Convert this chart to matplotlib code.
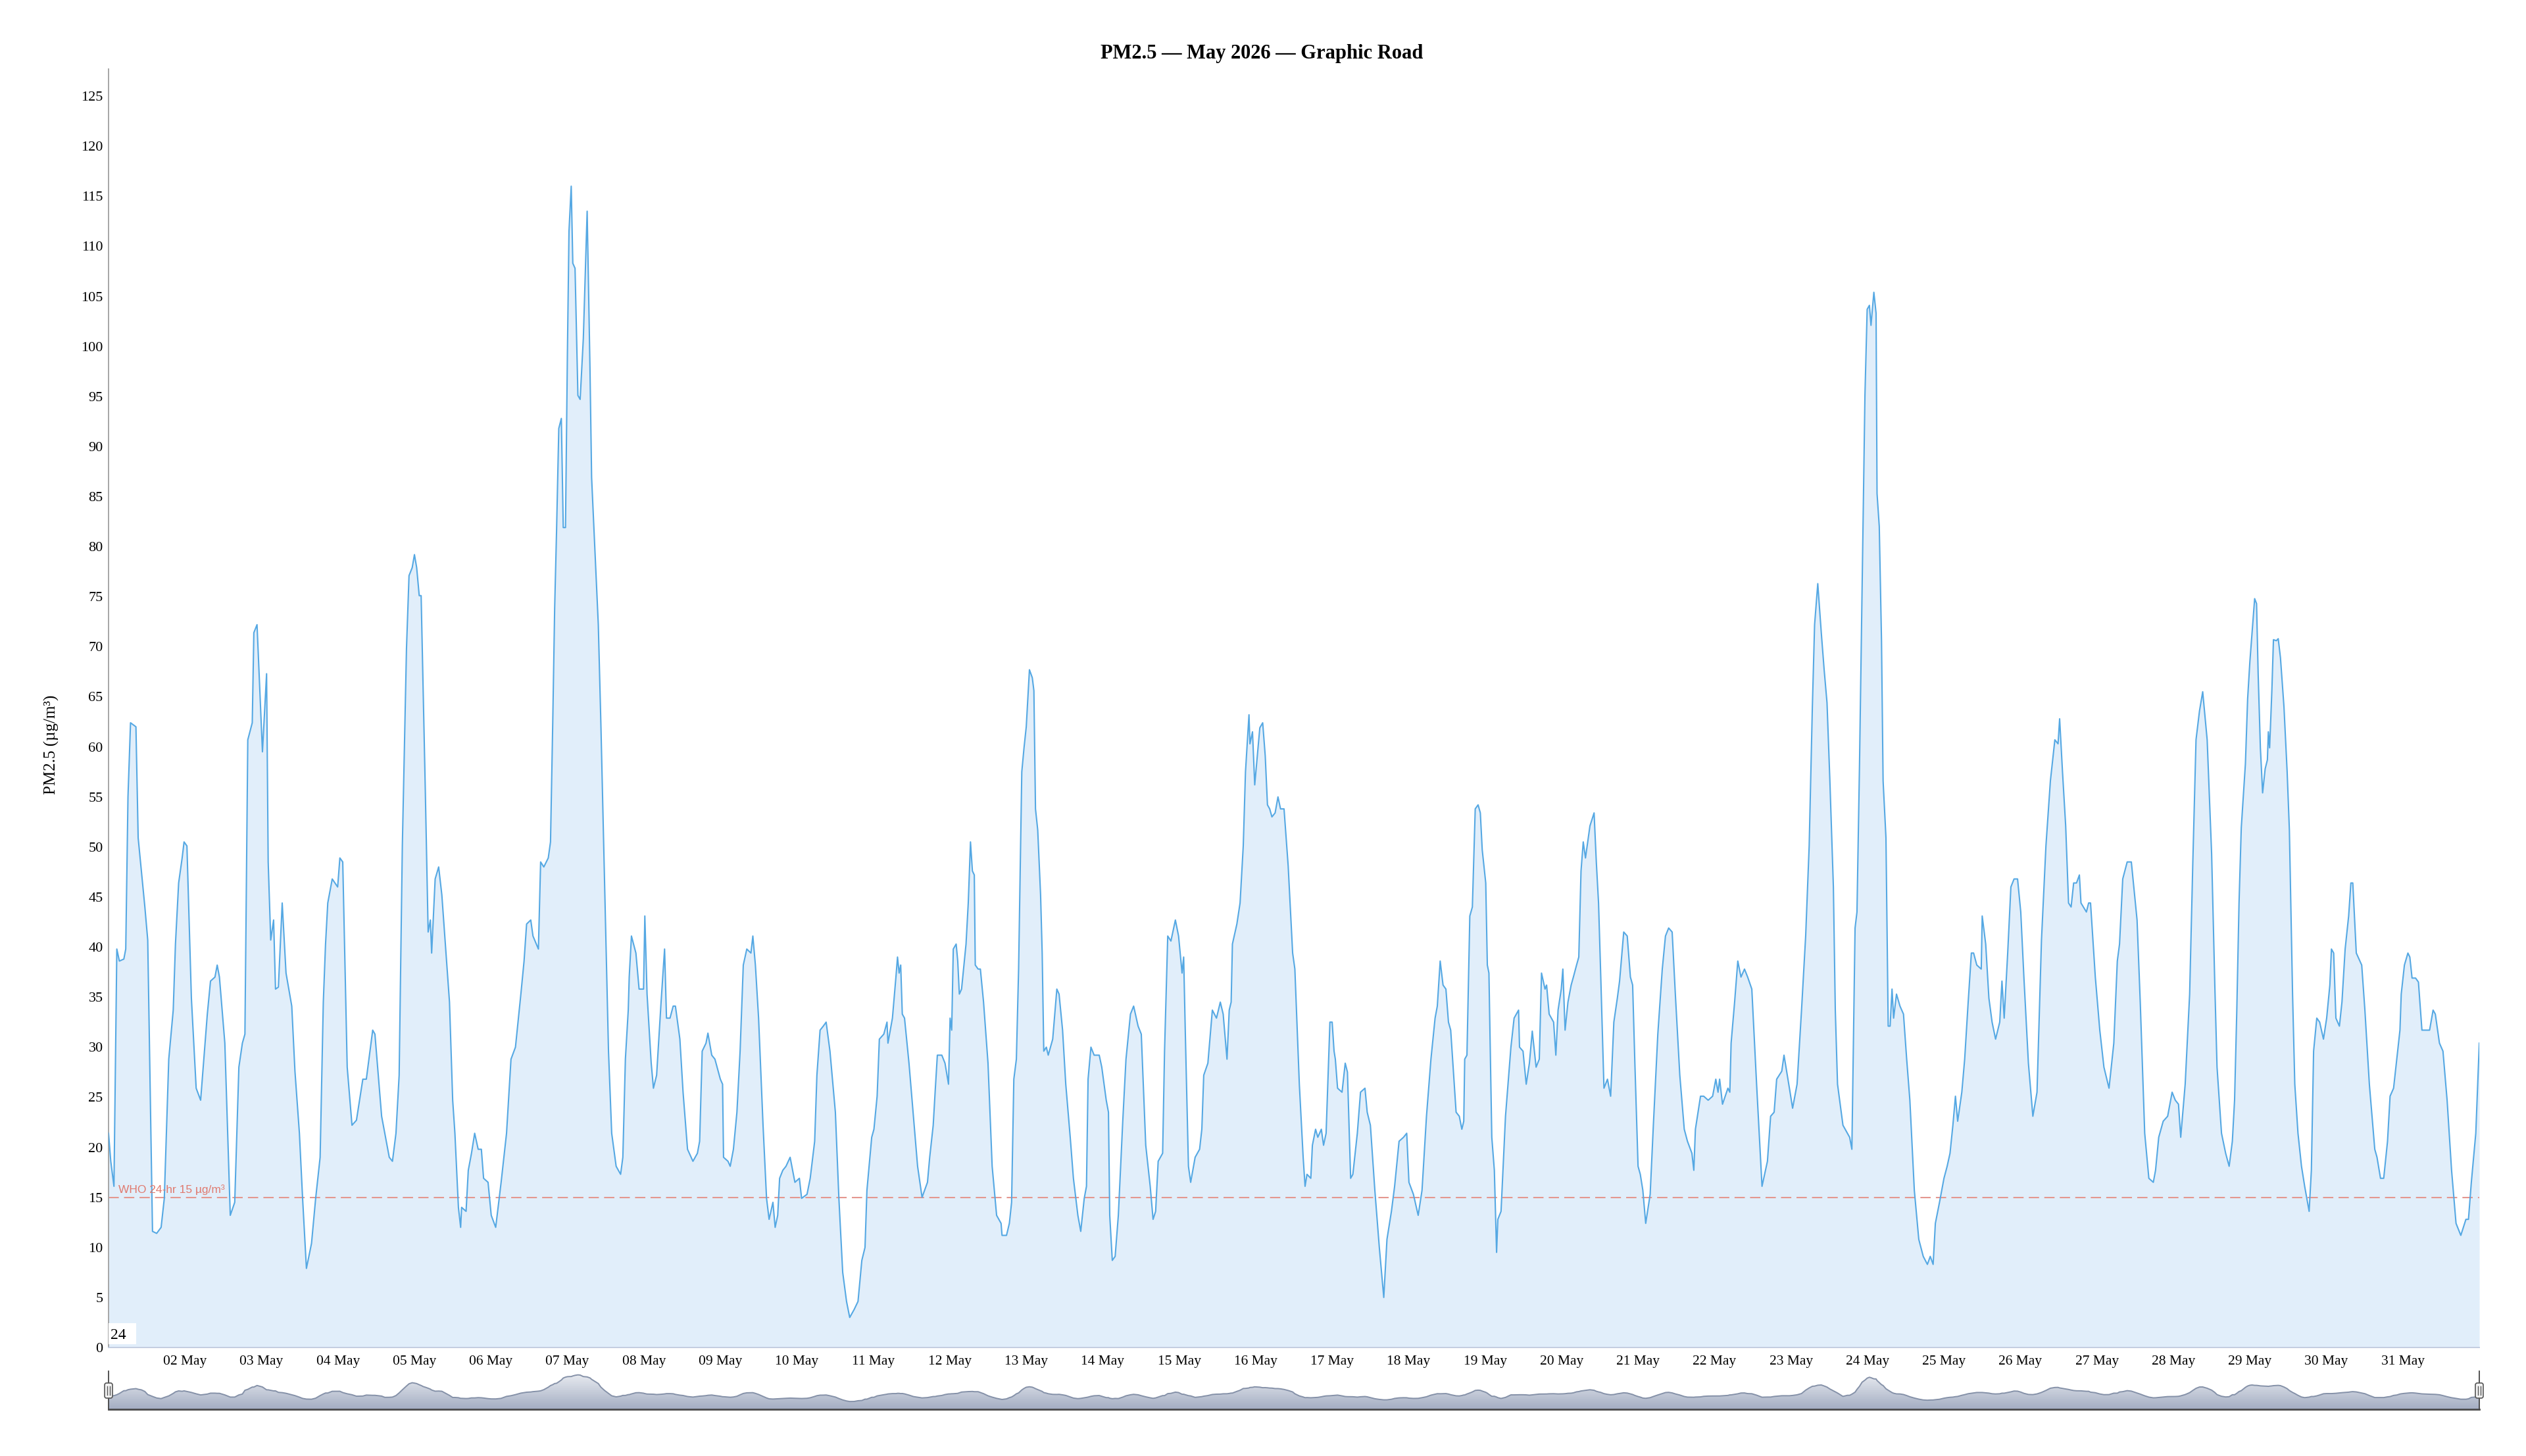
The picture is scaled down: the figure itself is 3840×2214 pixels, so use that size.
import numpy as np
import pandas as pd
import matplotlib
matplotlib.use("Agg")
import matplotlib.pyplot as plt
import matplotlib.dates as mdates
from matplotlib.colors import LinearSegmentedColormap
from matplotlib.patches import Rectangle, FancyBboxPatch
from matplotlib.lines import Line2D
from matplotlib.transforms import IdentityTransform, blended_transform_factory

plt.rcParams["font.family"] = ["Liberation Serif", "DejaVu Serif"]

# PM2.5 readings: (hours since 01 May 00:00, value in ug/m3)
may01_04 = [(0.0, 21.4), (0.7, 18.6), (1.7, 16.1), (2.6, 39.8), (3.4, 38.6), (4.8, 38.8), (5.4, 39.8),
            (6.1, 55.0), (6.9, 62.4), (8.6, 62.0), (9.3, 50.9), (10.3, 47.6), (11.4, 44.0), (12.3, 40.7),
            (13.8, 11.6), (15.1, 11.4), (16.5, 12.0), (17.5, 14.9), (18.9, 28.8), (20.3, 33.7), (21.0, 40.3),
            (22.0, 46.4), (23.1, 48.9), (23.7, 50.5), (24.6, 50.1), (26.0, 34.9), (27.5, 25.9), (28.9, 24.7),
            (31.0, 33.3), (32.0, 36.6), (33.4, 37.0), (34.1, 38.2), (34.8, 37.0), (36.5, 30.4), (38.2, 13.2),
            (39.6, 14.5), (40.9, 28.0), (42.0, 30.4), (42.8, 31.3), (43.7, 60.7), (45.1, 62.4), (45.6, 71.4),
            (46.6, 72.2), (48.3, 59.5), (49.6, 67.3), (50.1, 48.5), (50.9, 40.7), (51.8, 42.7), (52.4, 35.8),
            (53.3, 36.0), (54.5, 44.4), (55.7, 37.4), (57.5, 34.1), (58.5, 27.6), (59.9, 21.4), (60.9, 14.9),
            (62.1, 7.9), (63.7, 10.4), (65.0, 14.9), (66.4, 19.0), (67.4, 34.5), (68.1, 40.3), (68.8, 44.4),
            (70.2, 46.8), (71.9, 46.0), (72.6, 48.9), (73.5, 48.5), (74.9, 28.0), (76.4, 22.2), (77.8, 22.7),
            (79.8, 26.8), (80.9, 26.8), (82.9, 31.7), (83.6, 31.3), (85.7, 23.1), (86.7, 21.4), (88.1, 19.0),
            (89.1, 18.6), (90.2, 21.4), (91.2, 27.2), (92.2, 50.1), (93.5, 69.8), (94.3, 77.1), (95.3, 77.9)]

may05_08 = [(96.0, 79.2), (96.7, 77.9), (97.5, 75.1), (98.1, 75.1), (98.8, 64.8), (99.4, 55.8), (100.3, 41.5),
            (101.0, 42.7), (101.4, 39.4), (102.5, 46.8), (103.6, 48.0), (104.6, 45.2), (107.0, 34.5),
            (108.0, 24.7), (108.7, 21.4), (109.8, 14.0), (110.5, 12.0), (110.8, 14.0), (112.2, 13.6),
            (112.9, 17.7), (113.9, 19.4), (114.9, 21.4), (116.0, 19.8), (117.0, 19.8), (117.7, 16.9),
            (119.1, 16.5), (120.1, 13.2), (121.5, 12.0), (123.2, 16.5), (124.9, 21.4), (126.3, 28.8),
            (127.7, 30.0), (129.4, 35.3), (130.4, 38.6), (131.2, 42.3), (132.5, 42.7), (133.2, 41.1),
            (134.9, 39.8), (135.6, 48.5), (136.6, 48.0), (138.0, 48.9), (138.7, 50.5), (139.4, 62.4),
            (140.0, 73.8), (140.6, 81.6), (141.3, 91.8), (142.1, 92.8), (142.7, 81.9), (143.4, 81.9),
            (144.0, 99.2), (144.5, 111.5), (145.2, 116.0), (145.7, 108.3), (146.4, 107.8), (147.3, 95.1),
            (148.0, 94.7), (149.0, 100.8), (150.2, 113.5), (151.1, 97.6), (151.6, 86.9), (153.7, 72.2),
            (154.5, 62.4), (155.7, 46.0), (156.9, 29.6), (157.9, 21.4), (159.3, 18.1), (160.7, 17.3),
            (161.4, 19.0), (162.2, 28.8), (163.1, 33.7), (163.4, 37.0), (164.1, 41.1), (165.5, 39.4),
            (166.5, 35.8), (167.9, 35.8), (168.3, 43.1), (169.0, 35.3), (170.3, 28.4), (171.0, 25.9),
            (172.0, 27.2), (173.4, 34.5), (174.5, 39.8), (175.1, 32.9), (176.2, 32.9), (177.2, 34.1),
            (177.9, 34.1), (179.3, 30.8), (180.3, 25.5), (181.7, 19.8), (183.4, 18.6), (184.8, 19.4),
            (185.5, 20.6), (186.3, 29.6), (187.5, 30.4), (188.1, 31.4), (189.3, 29.2), (190.3, 28.8)]

may09_12 = [(192.0, 26.8), (192.7, 26.3), (193.0, 19.0), (194.4, 18.6), (195.1, 18.1), (196.1, 19.8),
            (197.2, 23.5), (198.2, 29.6), (199.2, 38.2), (200.3, 39.8), (201.6, 39.4), (202.2, 41.1),
            (203.0, 38.2), (204.0, 32.9), (205.4, 22.2), (206.5, 14.9), (207.3, 12.8), (208.5, 14.5),
            (209.2, 12.0), (210.0, 13.2), (210.6, 16.9), (211.6, 17.7), (212.6, 18.1), (213.9, 19.0),
            (215.4, 16.5), (216.8, 16.9), (217.5, 14.9), (219.2, 15.3), (220.2, 16.9), (221.6, 20.6),
            (222.3, 27.2), (223.3, 31.7), (224.3, 32.1), (225.2, 32.5), (226.4, 29.6), (228.1, 23.5),
            (229.2, 14.9), (230.4, 7.5), (231.6, 4.6), (232.6, 3.0), (234.0, 3.8), (235.2, 4.6), (236.4, 8.7),
            (237.4, 10.0), (238.0, 15.7), (239.5, 21.0), (240.2, 21.8), (241.2, 25.1), (241.9, 30.8),
            (243.3, 31.3), (244.3, 32.5), (244.6, 30.4), (246.0, 32.9), (247.1, 37.0), (247.6, 39.0),
            (248.1, 37.4), (248.6, 38.2), (249.1, 33.3), (249.8, 32.9), (251.2, 28.4), (252.6, 23.1),
            (253.9, 18.1), (255.3, 15.0), (257.0, 16.5), (257.7, 19.0), (258.8, 22.2), (259.4, 25.5),
            (260.1, 29.2), (261.5, 29.2), (262.5, 28.4), (263.6, 26.3), (264.1, 32.9), (264.6, 31.7),
            (265.1, 39.8), (266.0, 40.3), (266.5, 38.6), (267.0, 35.3), (267.7, 35.8), (269.1, 40.3),
            (269.8, 44.4), (270.5, 50.5), (271.1, 47.6), (271.7, 47.2), (272.0, 38.2), (272.9, 37.8),
            (273.6, 37.8), (274.6, 34.5), (276.0, 28.4), (277.3, 18.1), (278.7, 13.2), (280.1, 12.4),
            (280.4, 11.2), (281.8, 11.2), (282.7, 12.4), (283.4, 14.5), (284.1, 26.8), (284.9, 28.8),
            (285.6, 37.8), (286.6, 57.5), (287.3, 59.9)]

may13_16 = [(288.0, 62.0), (289.0, 67.7), (289.9, 66.9), (290.4, 65.6), (290.9, 53.8), (291.6, 51.7),
            (292.5, 45.2), (293.0, 39.4), (293.5, 29.6), (294.3, 30.0), (294.9, 29.2), (296.3, 30.8),
            (297.6, 35.8), (298.3, 35.3), (299.4, 31.7), (300.4, 26.3), (301.8, 21.0), (302.8, 16.9),
            (304.2, 13.2), (305.1, 11.6), (306.2, 14.9), (306.9, 16.1), (307.4, 26.8), (308.3, 30.0),
            (309.3, 29.2), (310.9, 29.2), (311.7, 28.0), (313.1, 24.7), (313.8, 23.5), (314.2, 13.2),
            (315.0, 8.7), (315.9, 9.1), (316.9, 13.2), (318.3, 22.7), (319.3, 28.8), (320.7, 33.3),
            (321.7, 34.1), (323.1, 32.1), (324.1, 31.3), (325.5, 20.2), (326.9, 16.1), (327.8, 12.8),
            (328.6, 13.6), (329.4, 18.6), (330.8, 19.4), (331.4, 29.6), (332.4, 41.1), (333.4, 40.6),
            (334.8, 42.7), (335.8, 41.1), (336.9, 37.4), (337.4, 39.0), (337.9, 31.7), (338.9, 18.1),
            (339.6, 16.5), (341.0, 19.0), (342.4, 19.8), (343.1, 21.8), (343.7, 27.2), (345.0, 28.4),
            (346.4, 33.7), (347.7, 32.9), (348.9, 34.5), (349.8, 33.3), (351.0, 28.8), (351.7, 33.7),
            (352.3, 34.5), (352.7, 40.3), (354.1, 42.3), (355.1, 44.4), (356.1, 50.1), (356.8, 57.5),
            (357.9, 63.2), (358.2, 60.3), (359.0, 61.5), (359.7, 56.2), (361.3, 61.9), (362.2, 62.4),
            (363.0, 59.1), (363.7, 54.2), (364.4, 53.8), (365.1, 53.0), (366.1, 53.4), (367.0, 55.0),
            (367.8, 53.8), (368.9, 53.8), (370.2, 48.1), (371.6, 39.4), (372.3, 37.8), (373.7, 26.3),
            (374.9, 19.0), (375.5, 16.1), (376.1, 17.3), (377.3, 16.9), (377.8, 20.2), (378.8, 21.8),
            (379.5, 21.0), (380.6, 21.8), (381.3, 20.2), (382.1, 21.4), (383.3, 32.5)]

may17_20 = [(384.0, 32.5), (384.6, 29.6), (385.0, 28.8), (385.7, 25.9), (387.1, 25.5), (388.1, 28.4),
            (388.8, 27.5), (389.8, 16.9), (390.5, 17.3), (391.9, 21.4), (392.9, 25.5), (394.3, 25.9),
            (395.0, 23.5), (396.0, 22.2), (397.4, 15.7), (398.8, 10.0), (400.2, 5.0), (401.2, 10.8),
            (402.6, 13.6), (403.6, 16.1), (405.0, 20.6), (406.4, 21.0), (407.4, 21.4), (408.1, 16.5),
            (409.5, 15.3), (411.0, 13.2), (412.2, 15.7), (413.6, 23.1), (415.0, 28.8), (416.3, 32.9),
            (417.0, 34.1), (417.9, 38.6), (418.8, 36.2), (419.7, 35.8), (420.5, 32.5), (421.2, 31.7),
            (422.9, 23.5), (423.9, 23.1), (424.7, 21.8), (425.3, 22.6), (425.6, 28.8), (426.3, 29.2),
            (427.2, 43.1), (428.0, 44.0), (428.9, 53.8), (429.8, 54.2), (430.5, 53.4), (431.1, 49.7),
            (432.2, 46.4), (432.7, 38.2), (433.2, 37.4), (434.1, 21.0), (434.9, 17.7), (435.6, 9.5),
            (436.0, 12.8), (437.0, 13.6), (438.4, 23.1), (440.1, 30.0), (441.1, 32.9), (442.5, 33.7),
            (442.8, 30.0), (443.9, 29.6), (444.9, 26.3), (445.9, 28.4), (446.8, 31.6), (448.0, 28.0),
            (449.0, 28.8), (449.7, 37.4), (450.8, 35.8), (451.3, 36.2), (452.1, 33.3), (453.5, 32.5),
            (454.2, 29.2), (454.9, 33.7), (455.9, 35.8), (456.4, 37.8), (457.1, 31.7), (458.0, 34.5),
            (459.0, 36.2), (459.7, 37.0), (460.7, 38.2), (461.4, 39.0), (462.1, 47.6), (462.8, 50.5),
            (463.5, 48.9), (464.9, 52.1), (466.2, 53.4), (466.9, 48.5), (467.6, 44.4), (468.3, 37.0),
            (469.3, 25.9), (470.4, 26.8), (471.4, 25.1), (472.4, 32.5), (473.5, 34.9), (474.2, 36.6),
            (475.5, 41.5), (476.6, 41.1), (477.6, 37.0), (478.3, 36.2), (479.0, 28.4)]

may21_24 = [(480.0, 18.1), (480.7, 17.3), (481.5, 15.7), (482.4, 12.4), (483.8, 15.3), (484.8, 22.2),
            (486.2, 31.3), (487.6, 37.8), (488.6, 41.1), (489.6, 41.9), (490.7, 41.5), (491.7, 35.3),
            (493.1, 27.2), (494.5, 21.8), (495.5, 20.6), (496.9, 19.4), (497.5, 17.7), (498.0, 21.8),
            (499.6, 25.1), (500.6, 25.1), (502.0, 24.7), (503.4, 25.1), (504.4, 26.8), (505.1, 25.5),
            (505.6, 26.8), (506.5, 24.3), (508.2, 25.9), (508.8, 25.5), (509.2, 30.4), (510.3, 34.5),
            (511.3, 38.6), (512.3, 37.0), (513.4, 37.8), (514.4, 37.0), (515.7, 35.8), (517.2, 26.3),
            (518.9, 16.1), (520.6, 18.6), (521.6, 23.1), (522.7, 23.5), (523.5, 26.8), (525.1, 27.6),
            (525.8, 29.2), (527.5, 25.9), (528.5, 23.9), (529.9, 26.3), (531.3, 33.7), (532.6, 41.1),
            (533.7, 50.1), (534.7, 64.0), (535.4, 72.2), (536.4, 76.3), (537.5, 71.4), (538.4, 67.7),
            (539.3, 64.4), (540.2, 56.6), (541.3, 46.0), (541.9, 33.7), (542.6, 26.3), (544.3, 22.2),
            (545.7, 21.4), (546.4, 21.0), (547.1, 19.8), (548.1, 41.9), (548.7, 43.5), (549.5, 58.3),
            (550.3, 75.5), (551.2, 95.1), (551.9, 103.7), (552.6, 104.1), (553.1, 102.1), (554.0, 105.4),
            (554.7, 103.3), (555.0, 85.3), (555.7, 82.0), (556.4, 70.6), (556.9, 56.6), (557.8, 50.9),
            (558.5, 32.1), (559.1, 32.1), (559.7, 35.8), (560.2, 32.9), (561.1, 35.3), (562.2, 34.1),
            (563.3, 33.3), (564.3, 28.8), (565.3, 24.7), (566.7, 15.7), (568.1, 10.8), (569.5, 9.1),
            (570.8, 8.3), (571.7, 9.1), (572.6, 8.3), (573.3, 12.4), (574.6, 14.5)]

may25_28 = [(576.0, 16.9), (577.0, 18.1), (577.9, 19.4), (578.8, 22.2), (579.6, 25.1), (580.3, 22.6),
            (581.6, 25.5), (582.5, 28.8), (583.6, 34.5), (584.6, 39.4), (585.3, 39.4), (586.3, 38.2),
            (587.7, 37.8), (588.0, 43.1), (589.1, 40.3), (590.1, 34.9), (591.1, 32.5), (592.2, 30.8),
            (593.5, 32.5), (594.2, 36.6), (594.9, 32.9), (596.0, 39.4), (597.0, 46.0), (598.0, 46.8),
            (599.1, 46.8), (600.1, 43.5), (601.1, 36.9), (602.5, 28.4), (603.9, 23.1), (605.2, 25.5),
            (606.6, 40.7), (608.0, 50.1), (609.4, 56.6), (610.8, 60.7), (611.8, 60.3), (612.3, 62.8),
            (613.2, 57.5), (614.2, 52.1), (615.1, 44.4), (615.9, 44.0), (616.7, 46.4), (617.6, 46.4),
            (618.5, 47.2), (619.0, 44.4), (620.7, 43.5), (621.4, 44.4), (622.0, 44.4), (623.5, 37.0),
            (624.9, 31.7), (626.2, 28.0), (627.8, 25.9), (629.3, 30.4), (630.4, 38.6), (631.1, 40.3),
            (632.1, 46.8), (633.5, 48.5), (634.8, 48.5), (636.6, 42.7), (637.6, 34.5), (639.0, 21.4),
            (640.3, 16.9), (641.7, 16.5), (642.4, 17.7), (643.4, 21.0), (644.8, 22.6), (646.2, 23.1),
            (647.6, 25.5), (648.6, 24.7), (649.6, 24.3), (650.3, 21.0), (651.7, 26.3), (653.1, 35.3),
            (654.1, 48.5), (655.1, 60.7), (656.2, 63.6), (657.2, 65.5), (658.6, 60.7), (660.0, 49.3),
            (661.0, 36.2), (661.7, 28.0), (663.1, 21.4), (664.4, 19.4), (665.5, 18.1), (666.5, 20.6),
            (667.2, 24.7), (667.9, 33.7), (668.6, 44.4), (669.3, 51.9), (670.6, 58.3), (671.3, 64.8)]

may29_31 = [(672.0, 68.5), (672.7, 71.4), (673.5, 74.8), (674.1, 74.3), (674.6, 67.3), (675.3, 59.9),
            (676.0, 55.4), (676.8, 57.8), (677.5, 58.7), (677.8, 61.5), (678.2, 59.9), (678.9, 65.6),
            (679.4, 70.7), (680.3, 70.6), (680.9, 70.8), (681.6, 68.9), (682.7, 64.0), (683.7, 57.5),
            (684.4, 51.7), (685.4, 35.3), (686.1, 26.3), (687.1, 21.4), (688.2, 18.1), (689.2, 16.1),
            (690.6, 13.6), (691.3, 17.7), (692.0, 29.6), (693.0, 32.9), (693.9, 32.5), (695.1, 30.8),
            (696.1, 32.9), (697.1, 36.2), (697.6, 39.8), (698.3, 39.4), (699.0, 32.9), (700.1, 32.1),
            (700.9, 34.5), (701.9, 39.8), (703.0, 43.1), (703.7, 46.4), (704.3, 46.4), (705.4, 39.4),
            (707.1, 38.2), (708.1, 33.7), (709.5, 26.3), (711.2, 19.8), (711.9, 19.0), (713.0, 16.9),
            (714.0, 16.9), (715.2, 20.6), (716.0, 25.1), (717.1, 25.9), (718.1, 28.8), (719.1, 31.7),
            (719.5, 35.3), (720.5, 38.2), (721.6, 39.4), (722.2, 39.0), (722.9, 36.9), (724.0, 36.9),
            (724.9, 36.5), (726.0, 31.7), (727.1, 31.7), (728.4, 31.7), (729.5, 33.7), (730.2, 33.3),
            (731.5, 30.4), (732.6, 29.6), (733.9, 24.7), (735.3, 17.7), (736.7, 12.4), (738.2, 11.2),
            (739.8, 12.8), (740.6, 12.8), (741.5, 16.5), (742.9, 21.4), (743.7, 28.0), (744.0, 30.4)]

who_limit = 15
title = "PM2.5 \u2014 May 2026 \u2014 Graphic Road"

# build the series
pairs = may01_04 + may05_08 + may09_12 + may13_16 + may17_20 + may21_24 + may25_28 + may29_31
hours = np.array([p[0] for p in pairs])
vals = np.array([p[1] for p in pairs])
start = pd.Timestamp("2026-05-01")
times = start + pd.to_timedelta(hours, unit="h")
series = pd.Series(vals, index=times)

W, H = 3840, 2214
fig = plt.figure(figsize=(W / 100, H / 100), dpi=100)

# main plot area
ax = fig.add_axes([165 / W, (H - 2049) / H, 3604 / W, 1944 / H])
ax.fill_between(times, vals, 0, color="#e1eefa", lw=0, zorder=1)
ax.plot(times, vals, color="#55a8e3", lw=1.5, zorder=3)

ax.axhline(who_limit, color="#e4978f", lw=1.5, dashes=(7.5, 3.8), zorder=2)
trans = blended_transform_factory(ax.transAxes, ax.transData)
ax.text(0.0042, who_limit + 0.25, "WHO 24-hr 15 \u00b5g/m\u00b3", transform=trans,
        fontsize=12.5, color="#e07a6f", family=["Liberation Sans", "DejaVu Sans"],
        ha="left", va="bottom", zorder=4)

ax.set_xlim(start, start + pd.Timedelta(days=31))
ax.set_ylim(0, 127.7)
ax.set_yticks(np.arange(0, 126, 5))
ax.xaxis.set_major_locator(mdates.DayLocator(bymonthday=range(2, 32)))
ax.xaxis.set_major_formatter(mdates.DateFormatter("%d %b"))
ax.tick_params(axis="y", length=0, pad=6, labelsize=16)
ax.tick_params(axis="x", length=0, pad=8.5, labelsize=15.5)

for s in ["top", "right"]:
    ax.spines[s].set_visible(False)
ax.spines["left"].set_color("#a6a6a6")
ax.spines["left"].set_linewidth(1.4)
ax.spines["bottom"].set_color("#c3cde0")
ax.spines["bottom"].set_linewidth(1.4)

ax.set_ylabel("PM2.5 (\u00b5g/m\u00b3)", fontsize=18)
ax.yaxis.set_label_coords(-0.0208, 0.4717)

fig.text(0.4995, 1 - 81 / H, title, fontsize=22, fontweight="bold", ha="center", va="center")

# small "24" box at lower-left of the plot
ax.add_patch(Rectangle((0, 0.0026), 0.0117, 0.0165, transform=ax.transAxes,
                       fc="white", ec="none", zorder=5))
ax.text(0.0009, 0.004, "24", transform=ax.transAxes, fontsize=17, ha="left", va="bottom", zorder=6)

# navigator
nav = fig.add_axes([165 / W, (H - 2143) / H, 3604 / W, 58 / H])
nav_vals = series.rolling("6h", center=True).mean()
nav_lo, nav_hi = -25, 120
x0 = mdates.date2num(start)
x1 = mdates.date2num(start + pd.Timedelta(days=31))
grad = np.linspace(0, 1, 256).reshape(-1, 1)
cmap = LinearSegmentedColormap.from_list("nav", ["#a3adc2", "#eef0f4"])
im = nav.imshow(grad, extent=[x0, x1, nav_lo, nav_hi], origin="lower", aspect="auto",
                cmap=cmap, zorder=1)
poly = nav.fill_between(nav_vals.index, nav_vals.values, nav_lo, color="none", lw=0)
im.set_clip_path(poly.get_paths()[0], transform=nav.transData)
nav.plot(nav_vals.index, nav_vals.values, color="#8591a8", lw=1.4, zorder=3)
nav.set_xlim(x0, x1)
nav.set_ylim(nav_lo, nav_hi)
nav.set_xticks([])
nav.set_yticks([])
for s in nav.spines.values():
    s.set_visible(False)
nav.plot([0, 0], [0, 1], transform=nav.transAxes, color="#444444", lw=1.3, clip_on=False, zorder=4)
nav.plot([1, 1], [0, 1], transform=nav.transAxes, color="#444444", lw=1.3, clip_on=False, zorder=4)
nav.plot([0, 1], [0, 0], transform=nav.transAxes, color="#4a4a4a", lw=2.0, clip_on=False, zorder=4)

# navigator handles (pixel coordinates)
for hx in (165, 3769):
    fig.add_artist(FancyBboxPatch((hx - 6, H - 2126), 12, 23, boxstyle="round,pad=0,rounding_size=3",
                                  fc="#f2f2f2", ec="#555555", lw=1.2, transform=IdentityTransform(),
                                  zorder=10))
    for dx in (-2, 2):
        fig.add_artist(Line2D([hx + dx, hx + dx], [H - 2121, H - 2108], color="#555555", lw=1.0,
                              transform=IdentityTransform(), zorder=11))

fig.savefig("out.png", dpi=100)
